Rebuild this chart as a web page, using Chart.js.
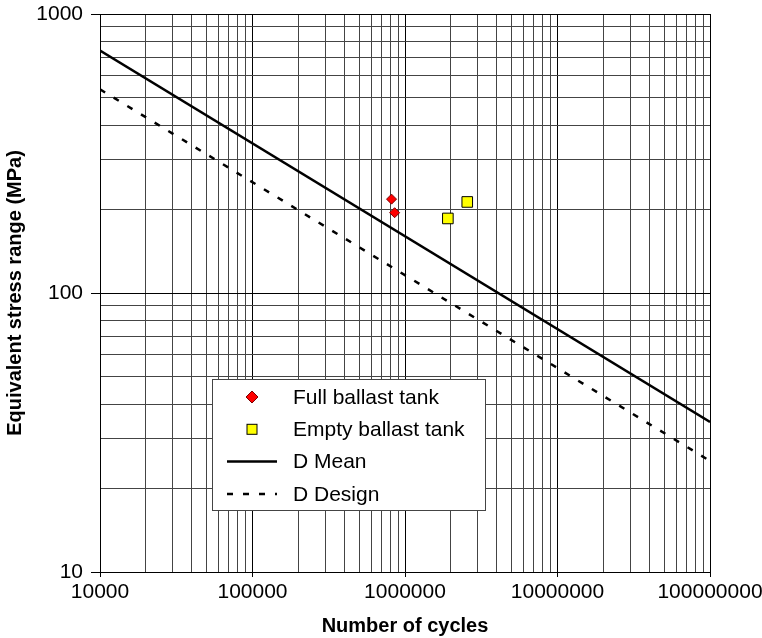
<!DOCTYPE html>
<html>
<head>
<meta charset="utf-8">
<script src="https://cdn.jsdelivr.net/npm/chart.js@4.4.1/dist/chart.umd.min.js"></script>
<style>
  body { margin: 0; background: #fff; overflow: hidden; }
  #sn { display: block; }
</style>
</head>
<body>
<canvas id="sn" width="762" height="638"></canvas>
<script>
// measured points (cycles, stress range MPa)
var fullCycles = [816000, 855000];
var fullStress = [217, 194];
var emptyCycles = [1910000, 2560000];
var emptyStress = [185, 212];

// D curve end points
var curveCycles = [10000, 100000000];
var meanStress = [740, 34.5];
var designStress = [537, 25];

// tick labels / grid
var xDecades = [10000, 100000, 1000000, 10000000, 100000000];
var yDecades = [10, 100, 1000];
var minorSteps = [2, 3, 4, 5, 6, 7, 8, 9];

var FONT = '"Liberation Sans", Arial, Helvetica, sans-serif';

function pairs(xs, ys) {
    return xs.map(function (x, i) { return { x: x, y: ys[i] }; });
}

function gridValues(decades) {
    var out = [];
    decades.forEach(function (d, i) {
        out.push(d);
        if (i < decades.length - 1) {
            minorSteps.forEach(function (m) { out.push(d * m); });
        }
    });
    return out;
}

function isMajor(v, decades) {
    return decades.indexOf(v) >= 0;
}

// legend drawn inside the plot, on a white box
var boxLegend = {
    id: 'boxLegend',
    afterDraw: function (chart) {
        var ctx = chart.ctx;
        var x0 = 212, y0 = 379, w = 273, h = 131;
        ctx.save();
        ctx.fillStyle = '#fff';
        ctx.fillRect(x0, y0, w, h);
        ctx.strokeStyle = '#444';
        ctx.lineWidth = 1;
        ctx.strokeRect(x0 + 0.5, y0 + 0.5, w, h);
        ctx.font = '21px ' + FONT;
        ctx.textBaseline = 'middle';
        ctx.fillStyle = '#000';
        chart.data.datasets.forEach(function (ds, row) {
            var cy = y0 + 18 + row * 32.3;
            var cx = 252;
            if (ds.pointStyle === 'rectRot') {
                ctx.beginPath();
                ctx.moveTo(cx, cy - 6);
                ctx.lineTo(cx + 6, cy);
                ctx.lineTo(cx, cy + 6);
                ctx.lineTo(cx - 6, cy);
                ctx.closePath();
                ctx.fillStyle = ds.backgroundColor;
                ctx.fill();
                ctx.strokeStyle = ds.borderColor;
                ctx.lineWidth = 1;
                ctx.stroke();
            } else if (ds.pointStyle === 'rect') {
                ctx.fillStyle = ds.backgroundColor;
                ctx.fillRect(cx - 5, cy - 5, 10, 10);
                ctx.strokeStyle = ds.borderColor;
                ctx.lineWidth = 1;
                ctx.strokeRect(cx - 5, cy - 5, 10, 10);
            } else {
                ctx.beginPath();
                ctx.setLineDash(ds.borderDash || []);
                ctx.strokeStyle = ds.borderColor;
                ctx.lineWidth = ds.borderWidth;
                ctx.moveTo(227, cy);
                ctx.lineTo(277, cy);
                ctx.stroke();
                ctx.setLineDash([]);
            }
            ctx.fillStyle = '#000';
            ctx.fillText(ds.label, 293, cy + 1);
        });
        ctx.restore();
    }
};

var xGrid = gridValues(xDecades);
var yGrid = gridValues(yDecades);

new Chart(document.getElementById('sn').getContext('2d'), {
    type: 'scatter',
    data: {
        datasets: [{
            label: 'Full ballast tank',
            data: pairs(fullCycles, fullStress),
            pointStyle: 'rectRot',
            pointRadius: 5,
            backgroundColor: '#ff0000',
            borderColor: '#7a0000',
            borderWidth: 1,
            order: 0
        }, {
            label: 'Empty ballast tank',
            data: pairs(emptyCycles, emptyStress),
            pointStyle: 'rect',
            pointRadius: 7.5,
            backgroundColor: '#ffff00',
            borderColor: '#000',
            borderWidth: 1,
            order: 0
        }, {
            type: 'line',
            label: 'D Mean',
            data: pairs(curveCycles, meanStress),
            borderColor: '#000',
            borderWidth: 2.5,
            pointRadius: 0,
            fill: false,
            order: 1
        }, {
            type: 'line',
            label: 'D Design',
            data: pairs(curveCycles, designStress),
            borderColor: '#000',
            borderWidth: 2.5,
            borderDash: [6, 10],
            pointRadius: 0,
            fill: false,
            order: 1
        }]
    },
    options: {
        responsive: false,
        animation: false,
        layout: { padding: { left: 0, right: 52, top: 14, bottom: 0 } },
        plugins: {
            legend: { display: false },
            tooltip: { enabled: false }
        },
        scales: {
            x: {
                type: 'logarithmic',
                min: 10000,
                max: 100000000,
                afterBuildTicks: function (scale) {
                    scale.ticks = xGrid.map(function (v) { return { value: v }; });
                },
                afterFit: function (scale) {
                    scale.height = 66;
                    scale.paddingLeft = 0;
                    scale.paddingRight = 0;
                },
                ticks: {
                    autoSkip: false,
                    maxRotation: 0,
                    padding: 3,
                    color: '#000',
                    font: { family: FONT, size: 21 },
                    callback: function (v) { return isMajor(v, xDecades) ? String(v) : ''; }
                },
                grid: {
                    color: function (c) { return c.tick && isMajor(c.tick.value, xDecades) ? '#000' : '#444'; },
                    tickColor: function (c) { return c.tick && isMajor(c.tick.value, xDecades) ? '#000' : 'rgba(0,0,0,0)'; },
                    tickLength: 5,
                    lineWidth: 1
                },
                border: { color: '#000' },
                title: {
                    display: true,
                    text: 'Number of cycles',
                    color: '#000',
                    font: { family: FONT, size: 20, weight: 'bold' },
                    padding: 0
                }
            },
            y: {
                type: 'logarithmic',
                min: 10,
                max: 1000,
                afterBuildTicks: function (scale) {
                    scale.ticks = yGrid.map(function (v) { return { value: v }; });
                },
                afterFit: function (scale) {
                    scale.width = 100;
                    scale.paddingTop = 0;
                    scale.paddingBottom = 0;
                },
                ticks: {
                    autoSkip: false,
                    padding: 8,
                    color: '#000',
                    font: { family: FONT, size: 21 },
                    callback: function (v) { return isMajor(v, yDecades) ? String(v) : ''; }
                },
                grid: {
                    color: function (c) { return c.tick && isMajor(c.tick.value, yDecades) ? '#000' : '#444'; },
                    tickColor: function (c) { return c.tick && isMajor(c.tick.value, yDecades) ? '#000' : 'rgba(0,0,0,0)'; },
                    tickLength: 9,
                    lineWidth: 1
                },
                border: { color: '#000' },
                title: {
                    display: true,
                    text: 'Equivalent stress range (MPa)',
                    color: '#000',
                    font: { family: FONT, size: 20, weight: 'bold' },
                    padding: { top: 3, bottom: 0 }
                }
            }
        }
    },
    plugins: [boxLegend]
});
</script>
</body>
</html>
